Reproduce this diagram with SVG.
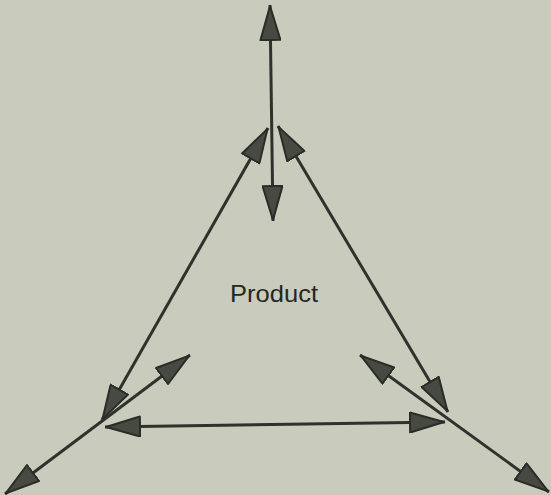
<svg xmlns="http://www.w3.org/2000/svg" width="551" height="495" viewBox="0 0 551 495">
  <defs>
    <marker id="head" viewBox="0 0 36 22" refX="36" refY="11" markerWidth="36" markerHeight="22" markerUnits="userSpaceOnUse" orient="auto-start-reverse">
      <path d="M1,1 L35,11 L1,21 Z" fill="#474a42" stroke="#2a2c27" stroke-width="2" stroke-linejoin="round"/>
    </marker>
  </defs>
  <style>
    .conn { stroke: #2f312c; stroke-width: 3; fill: none; marker-start: url(#head); marker-end: url(#head); }
    .label { font-family: "Liberation Sans", Arial, sans-serif; font-size: 24.5px; fill: #262723; }
  </style>
  <rect x="0" y="0" width="551" height="495" fill="#c9ccbd"/>
  <g id="connectors">
    <line class="conn" x1="270" y1="5" x2="273" y2="221"/>
    <line class="conn" x1="268" y1="128" x2="102" y2="420"/>
    <line class="conn" x1="278" y1="126" x2="448" y2="412"/>
    <line class="conn" x1="105" y1="427" x2="445" y2="422"/>
    <line class="conn" x1="190" y1="355" x2="5" y2="494"/>
    <line class="conn" x1="360" y1="355" x2="549" y2="492"/>
  </g>
  <g id="product">
    <text class="label" x="274" y="302" text-anchor="middle" textLength="88" lengthAdjust="spacingAndGlyphs">Product</text>
  </g>
</svg>
